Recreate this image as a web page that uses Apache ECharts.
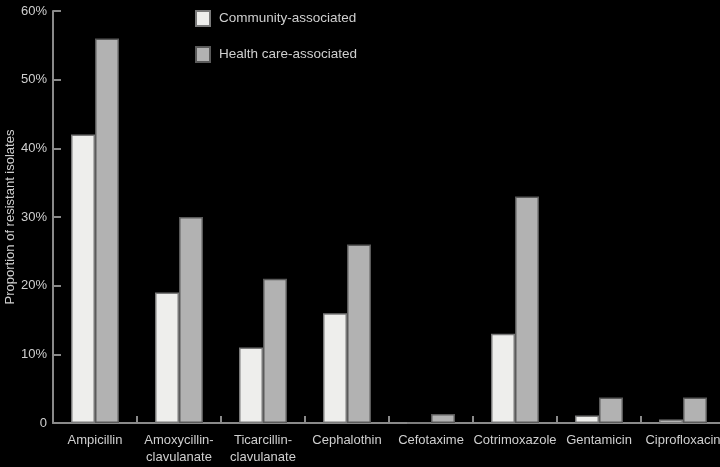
<!DOCTYPE html>
<html>
<head>
<meta charset="utf-8">
<style>
	html, body { margin: 0; padding: 0; background: #000; }
	#chart { width: 720px; height: 467px; }
</style>
<script src="https://cdn.jsdelivr.net/npm/echarts@6/dist/echarts.min.js"></script>
</head>
<body>
<div id="chart"></div>
<script>
// 数据
var categories = ['Ampicillin', 'Amoxycillin-\nclavulanate', 'Ticarcillin-\nclavulanate', 'Cephalothin',
	'Cefotaxime', 'Cotrimoxazole', 'Gentamicin', 'Ciprofloxacin'];
var legendNames = ['Community-associated', 'Health care-associated'];
var community = [42, 19, 11, 16, 0, 13, 1.1, 0.5];
var healthCare = [56, 30, 21, 26, 1.3, 33, 3.7, 3.7];
var yTicks = [0, 10, 20, 30, 40, 50, 60];

var textColor = '#cfcfcf';
var fontName = 'Liberation Sans';

var chart = echarts.init(document.getElementById('chart'));

var option = {
	backgroundColor: '#000',
	animation: false,
	textStyle: { fontFamily: fontName },
	//图例
	legend: {
		orient: 'vertical',
		left: 195,
		top: 10,
		padding: 0,
		itemWidth: 14,
		itemHeight: 15,
		itemGap: 19,
		icon: 'rect',
		data: legendNames,
		textStyle: {
			color: textColor,
			fontSize: 13.5,
			fontFamily: fontName,
			padding: [4, 0, 0, 4]
		}
	},
	//网格
	grid: {
		left: 53,
		top: 11,
		width: 672,
		bottom: 44,
		containLabel: false,
		outerBoundsMode: 'none'
	},
	//x轴
	xAxis: {
		type: 'category',
		data: categories,
		axisLine: {
			lineStyle: { color: '#8a8a8a', width: 2 }
		},
		axisTick: {
			show: true,
			inside: true,
			length: 7,
			lineStyle: { color: '#8a8a8a', width: 2 }
		},
		axisLabel: {
			color: textColor,
			fontSize: 13,
			fontFamily: fontName,
			margin: 9,
			lineHeight: 17,
			interval: 0
		}
	},
	//y轴
	yAxis: {
		type: 'value',
		min: yTicks[0],
		max: yTicks[yTicks.length - 1],
		interval: 10,
		name: 'Proportion of resistant isolates',
		nameLocation: 'middle',
		nameGap: 36,
		nameMoveOverlap: false,
		nameTextStyle: {
			color: textColor,
			fontSize: 13,
			fontFamily: fontName
		},
		splitLine: { show: false },
		axisLine: {
			show: true,
			lineStyle: { color: '#8a8a8a', width: 2 }
		},
		axisTick: {
			show: true,
			inside: true,
			length: 8,
			lineStyle: { color: '#8a8a8a', width: 2 }
		},
		axisLabel: {
			color: textColor,
			fontSize: 13,
			fontFamily: fontName,
			margin: 6,
			formatter: function (v) {
				return v === 0 ? '0' : v + '%';
			}
		}
	},
	//系列列表
	series: [
		{
			name: legendNames[0],
			type: 'bar',
			barWidth: 24,
			barGap: '0%',
			data: community,
			itemStyle: {
				color: '#eeeeec',
				borderColor: '#7a7a7a',
				borderWidth: 1.5
			}
		},
		{
			name: legendNames[1],
			type: 'bar',
			barWidth: 24,
			barGap: '0%',
			data: healthCare,
			itemStyle: {
				color: '#b2b2b2',
				borderColor: '#5a5a5a',
				borderWidth: 1.5
			}
		}
	]
};

chart.setOption(option);
</script>
</body>
</html>
